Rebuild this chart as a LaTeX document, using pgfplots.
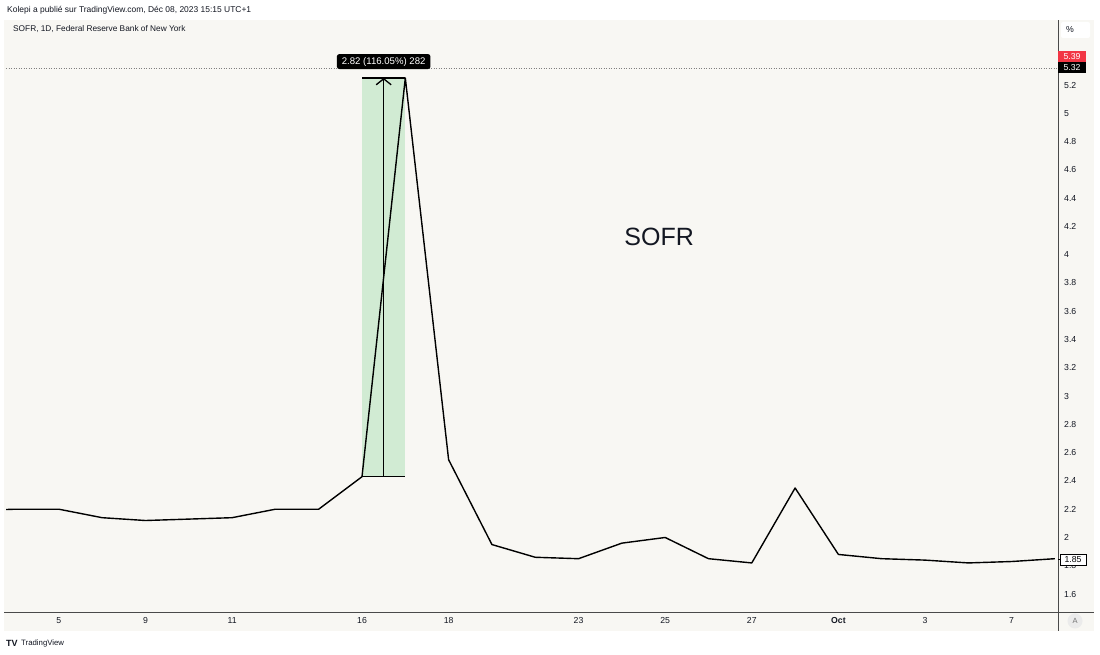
\documentclass[border=0pt]{standalone}
\usepackage{pgfplots}
\pgfplotsset{compat=1.18}
\usepackage{fontspec}
\setmainfont{Liberation Sans}
\usetikzlibrary{arrows.meta}
\definecolor{tvbg}{HTML}{F8F7F3}
\definecolor{tvtext}{HTML}{131722}
\definecolor{tvgreen}{HTML}{D1EBD3}
\definecolor{tvred}{HTML}{F23645}
\definecolor{tvaxis}{HTML}{4A4A4A}

\begin{document}
\begin{tikzpicture}
% page and chart panel (1pt = 1px)
\fill[white] (0pt,0pt) rectangle (1100pt,655pt);
\fill[tvbg] (4pt,24pt) rectangle (1094pt,635pt);

\begin{axis}[at={(6pt,43pt)}, anchor=south west,
    width=1052pt, height=592pt, scale only axis,
    xmin=-1.22, xmax=23.07, ymin=1.473, ymax=5.66,
    axis line style={draw=none}, major tick length=0pt,
    ytick={1.6,1.8,2,2.2,2.4,2.6,2.8,3,3.2,3.4,3.6,3.8,4,4.2,4.4,4.6,4.8,5,5.2},
    yticklabel pos=right,
    yticklabel style={anchor=base west, inner sep=0pt, xshift=6pt, yshift=-3pt,
      font=\fontsize{8.7}{10}\selectfont, text=tvtext},
    xtick={0,2,4,7,9,12,14,16,18,20,22},
    xticklabels={5,9,11,16,18,23,25,27,\textbf{Oct},3,7},
    xticklabel style={anchor=base, inner sep=0pt, yshift=-12pt,
      font=\fontsize{8.7}{10}\selectfont, text=tvtext},
    /pgf/number format/assume math mode=true]

  % measuring tool, Sep 16 -> Sep 17
  \fill[tvgreen] (axis cs:7,2.43) rectangle (axis cs:8,5.25);
  \draw[gray, line width=0.6pt, dash pattern=on 1pt off 1.5pt] (axis cs:-1.22,5.32) -- (axis cs:23.07,5.32);

  % SOFR, trading days from Sep 5 2019 = 0
  \addplot[black, line width=1.4pt, line join=round, mark=none] coordinates {
    (-2,2.19) (-1,2.20) (0,2.20) (1,2.14) (2,2.12) (3,2.13) (4,2.14) (5,2.20) (6,2.20)
    (7,2.43) (8,5.25) (9,2.55) (10,1.95) (11,1.86) (12,1.85) (13,1.96) (14,2.00)
    (15,1.85) (16,1.82) (17,2.35) (18,1.88) (19,1.85) (20,1.84) (21,1.82) (22,1.83) (23,1.85)
  };

  \draw[black, line width=1.3pt] (axis cs:7,2.43) -- (axis cs:8,2.43);
  \draw[black, line width=1.3pt] (axis cs:7,5.25) -- (axis cs:8,5.25);
  \draw[black, line width=1.3pt, -{Straight Barb[length=6pt,width=15pt]}] (axis cs:7.5,2.43) -- (axis cs:7.5,5.25);
  \node[fill=black, text=white, rounded corners=2.5pt, inner xsep=5pt, inner ysep=3pt,
    font=\fontsize{9.6}{11}\selectfont] at (axis cs:7.5,5.366) {2.82 (116.05\%) 282};

  \node[font=\fontsize{25}{30}\selectfont, text=tvtext] at (axis cs:13.86,4.125) {SOFR};
\end{axis}

% axis lines
\draw[tvaxis, line width=0.8pt] (4pt,43pt) -- (1094pt,43pt);
\draw[tvaxis, line width=0.8pt] (1058pt,24pt) -- (1058pt,635pt);

% price scale labels
\node[fill=tvred, text=white, inner sep=0pt, minimum width=28pt, minimum height=11pt,
  font=\fontsize{8.7}{10}\selectfont] at (1072pt,598pt) {5.39};
\node[fill=black, text=white, inner sep=0pt, minimum width=28pt, minimum height=11pt,
  font=\fontsize{8.7}{10}\selectfont] at (1072pt,587pt) {5.32};
\draw[black, line width=0.7pt] (1058pt,96pt) -- (1060pt,96pt);
\node[fill=white, draw=black, line width=0.7pt, inner sep=0pt, minimum width=26pt, minimum height=11pt,
  font=\fontsize{8.7}{10}\selectfont] at (1073pt,95pt) {1.85};

% unit box and auto-scale button
\node[fill=white, rounded corners=2pt, minimum width=29pt, minimum height=16pt] at (1075.5pt,625pt) {};
\node[anchor=west, inner sep=0pt, font=\fontsize{8.7}{10}\selectfont, text=tvtext] at (1066pt,625pt) {\%};
\fill[black!8] (1075pt,34pt) circle (7.5pt);
\node[font=\fontsize{7.5}{8}\selectfont, text=black!55] at (1075pt,34pt) {A};

% header texts
\node[anchor=west, inner sep=0pt, font=\fontsize{8.45}{10}\selectfont, text=tvtext] at (7pt,645pt)
  {Kolepi a publié sur TradingView.com, Déc 08, 2023 15:15 UTC+1};
\node[anchor=west, inner sep=0pt, font=\fontsize{8.3}{10}\selectfont, text=tvtext] at (13pt,626pt)
  {SOFR, 1D, Federal Reserve Bank of New York};

% footer logo
\node[anchor=west, inner sep=0pt, font=\fontsize{9}{10}\selectfont\bfseries, text=tvtext] at (6pt,12pt) {TV};
\node[anchor=west, inner sep=0pt, font=\fontsize{7.8}{9}\selectfont, text=tvtext] at (21pt,12pt) {TradingView};
\end{tikzpicture}
\end{document}
